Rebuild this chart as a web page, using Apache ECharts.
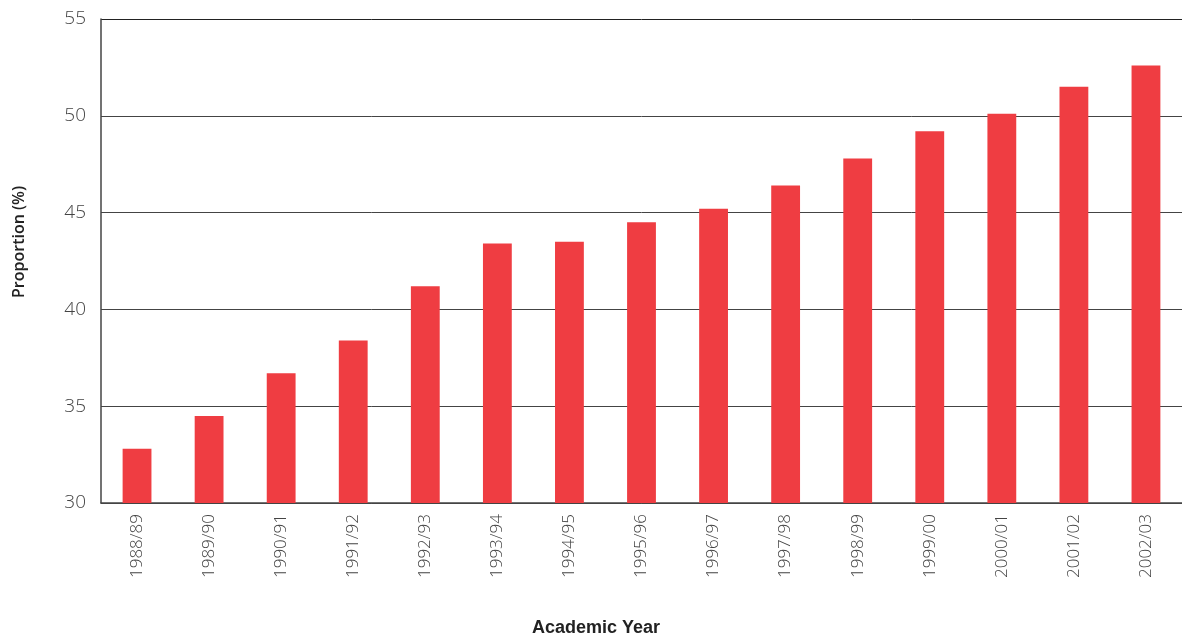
<!DOCTYPE html>
<html>
<head>
<meta charset="utf-8">
<script src="https://cdn.jsdelivr.net/npm/echarts@6/dist/echarts.min.js"></script>
<style>html,body{margin:0;padding:0;background:#fff;}#c{width:1182px;height:638px;}</style>
</head>
<body>
<div id="c"></div>
<script>
const categories = ['1988/89','1989/90','1990/91','1991/92','1992/93','1993/94','1994/95','1995/96','1996/97','1997/98','1998/99','1999/00','2000/01','2001/02','2002/03'];
const proportion = [32.8, 34.5, 36.7, 38.4, 41.2, 43.4, 43.5, 44.5, 45.2, 46.4, 47.8, 49.2, 50.1, 51.5, 52.6];
const yTicks = [30, 35, 40, 45, 50, 55];
const xTitle = 'Academic Year';
const yTitle = 'Proportion (%)';

const chart = echarts.init(document.getElementById('c'), null, {renderer: 'canvas'});
const font = '"Open Sans", "Noto Sans", sans-serif';
chart.setOption({
  animation: false,
  grid: {left: 101, right: 0, top: 19, bottom: 135, containLabel: false},
  xAxis: {
    type: 'category',
    data: categories,
    axisLine: {show: true, lineStyle: {color: '#444', width: 1.5}},
    axisTick: {show: false},
    axisLabel: {rotate: 90, margin: 11, color: '#444', fontSize: 17, fontFamily: font, fontWeight: 300}
  },
  yAxis: {
    type: 'value',
    min: yTicks[0],
    max: yTicks[yTicks.length - 1],
    interval: 5,
    axisLine: {show: true, lineStyle: {color: '#444', width: 1.5}},
    axisTick: {show: false},
    splitLine: {show: true, lineStyle: {color: ['#444','#444','#444','#444','#444','#222'], width: 1}},
    axisLabel: {margin: 15, color: '#444', fontSize: 19, fontFamily: font, fontWeight: 300}
  },
  graphic: [
    {type: 'text', x: 596, y: 628, style: {text: xTitle, font: 'bold 18px "Liberation Sans", Arial, sans-serif', fill: '#222', textAlign: 'center', textVerticalAlign: 'middle'}},
    {type: 'text', x: 19, y: 242, rotation: Math.PI / 2, style: {text: yTitle, font: '600 16px ' + font, fill: '#222', textAlign: 'center', textVerticalAlign: 'middle'}}
  ],
  series: [{
    type: 'bar',
    data: proportion,
    barWidth: '40%',
    itemStyle: {color: '#EF3D42'}
  }]
});
</script>
</body>
</html>
